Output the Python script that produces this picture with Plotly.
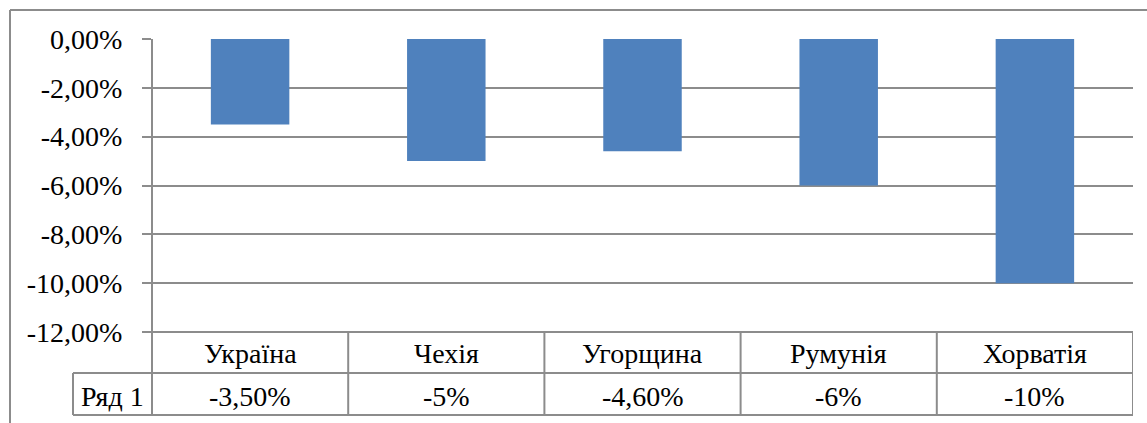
import plotly.graph_objects as go

categories = ["Україна", "Чехія", "Угорщина", "Румунія", "Хорватія"]
values = [-3.5, -5.0, -4.6, -6.0, -10.0]
value_labels = ["-3,50%", "-5%", "-4,60%", "-6%", "-10%"]
series_name = "Ряд 1"
tick_vals = [0, -2, -4, -6, -8, -10, -12]
tick_text = ["0,00%", "-2,00%", "-4,00%", "-6,00%", "-8,00%", "-10,00%", "-12,00%"]

W, H = 1147, 423
FONT = "Liberation Serif"
FS = 28
GRID = "#8c8c8c"
BAR = "#4f81bd"

def px(x):
    return x / W

def py(y):
    return 1 - y / H

x_left, x_right = 152, 1133
y_top, y_bot = 39, 332
row1_bot, row2_bot = 373, 415
label_left = 73

fig = go.Figure()
fig.add_trace(go.Bar(
    x=list(range(len(categories))), y=values, marker=dict(color=BAR, line=dict(width=0)),
    width=0.4, name=series_name, hoverinfo="skip"))

fig.update_layout(
    template="none",
    width=W, height=H, margin=dict(l=0, r=0, t=0, b=0, pad=0, autoexpand=False),
    paper_bgcolor="white", plot_bgcolor="white", showlegend=False,
    font=dict(family=FONT, size=FS, color="black"),
    xaxis=dict(domain=[px(x_left), px(x_right)], range=[-0.5, len(categories) - 0.5],
               showticklabels=False, showgrid=False, zeroline=False, showline=False,
               ticks="", fixedrange=True, automargin=False),
    yaxis=dict(domain=[py(y_bot), py(y_top)], range=[-12, 0], tickvals=tick_vals,
               ticktext=tick_text, showgrid=True, gridcolor=GRID, gridwidth=2,
               zeroline=False, showline=False, ticks="outside", ticklen=9,
               tickcolor=GRID, tickwidth=2, ticklabelstandoff=14, fixedrange=True,
               automargin=False),
)

shapes = []
line = dict(color=GRID, width=2)
# outer chart border (left and top)
shapes.append(dict(type="line", xref="paper", yref="paper", x0=px(10), x1=1.0,
                   y0=py(10), y1=py(10), line=dict(color=GRID, width=2)))
shapes.append(dict(type="line", xref="paper", yref="paper", x0=px(10), x1=px(10),
                   y0=py(10), y1=0.0, line=dict(color=GRID, width=2)))
# y axis line through table
shapes.append(dict(type="line", xref="paper", yref="paper", x0=px(x_left), x1=px(x_left),
                   y0=py(y_top), y1=py(row2_bot), line=line))
# table horizontal lines
n = len(categories)
shapes.append(dict(type="line", xref="x", yref="paper", x0=-0.5, x1=n - 0.5,
                   y0=py(y_bot), y1=py(y_bot), line=line))
for yy in (row1_bot, row2_bot):
    shapes.append(dict(type="line", xref="paper", yref="paper", x0=px(label_left), x1=px(x_right),
                       y0=py(yy), y1=py(yy), line=line))
# series label left border
shapes.append(dict(type="line", xref="paper", yref="paper", x0=px(label_left), x1=px(label_left),
                   y0=py(row1_bot), y1=py(row2_bot), line=line))
# category separators
for i in range(n):
    xb = i + 0.5
    shapes.append(dict(type="line", xref="x", yref="paper", x0=xb, x1=xb,
                       y0=py(y_bot), y1=py(row2_bot), line=line))
fig.update_layout(shapes=shapes)

ann = []
for i, (c, v) in enumerate(zip(categories, value_labels)):
    ann.append(dict(x=i, y=py((y_bot + row1_bot) / 2 + 1), xref="x", yref="paper", text=c,
                    showarrow=False, xanchor="center", yanchor="middle"))
    ann.append(dict(x=i, y=py((row1_bot + row2_bot) / 2 + 2), xref="x", yref="paper", text=v,
                    showarrow=False, xanchor="center", yanchor="middle"))
ann.append(dict(x=px((label_left + x_left) / 2), y=py((row1_bot + row2_bot) / 2 + 2), xref="paper",
                yref="paper", text=series_name, showarrow=False, xanchor="center", yanchor="middle"))
fig.update_layout(annotations=ann)

fig.write_html("out.html", config={"displayModeBar": False},
               post_script="document.body.style.margin='0';document.body.style.overflow='hidden';")
